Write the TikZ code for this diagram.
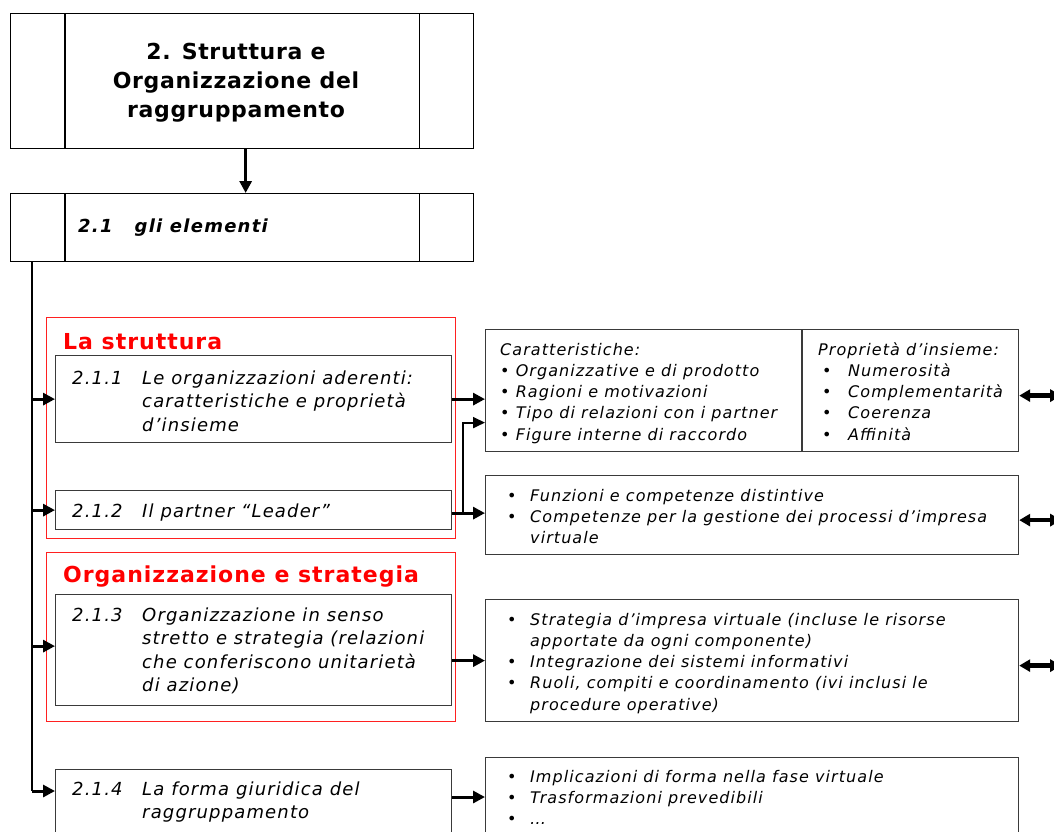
\documentclass[tikz,border=0pt]{standalone}
\usepackage{fontspec}
\setmainfont{DejaVu Sans}
\usetikzlibrary{arrows.meta}
\definecolor{boxline}{HTML}{3A3A3A}
\definecolor{groupred}{HTML}{FF2020}

% text faces
\newcommand\titlefont{\fontsize{22}{29}\selectfont\bfseries\addfontfeatures{LetterSpace=3}}
\newcommand\headfont{\fontsize{22}{26}\selectfont\bfseries\addfontfeatures{LetterSpace=4.5}}
\newcommand\itemfont{\fontsize{18}{23.6}\selectfont\itshape\addfontfeatures{LetterSpace=6.4}}
\newcommand\notefont{\fontsize{16}{21.3}\selectfont\itshape\addfontfeatures{LetterSpace=6.7}}

\begin{document}
\begin{tikzpicture}[x=1pt,y=-1pt,
  frame/.style={draw=black, line width=1.3pt, anchor=north west, inner sep=0pt},
  box/.style={draw=boxline, line width=1.2pt, anchor=north west, inner sep=0pt},
  group/.style={draw=groupred, line width=1pt, anchor=north west, inner sep=0pt},
  header/.style={anchor=west, inner sep=0pt, text=red, font=\headfont},
  itemtext/.style={anchor=base west, inner sep=0pt, font=\itemfont},
  notetext/.style={anchor=base west, inner sep=0pt, font=\notefont},
  link/.style={line width=3pt, -{Triangle[length=12pt,width=12pt]}},
  sidelink/.style={line width=1.8pt, -{Triangle[length=12pt,width=11pt]}},
  trunk/.style={line width=1.3pt},
  bilink/.style={line width=4.5pt, {Triangle[length=11pt,width=12pt]}-{Triangle[length=11pt,width=12pt]}},
]
\useasboundingbox (0,0) rectangle (1054,831);
\clip (0,0) rectangle (1054,831);

% --- heading blocks ---
\node[frame, minimum width=463pt, minimum height=135pt] (top) at (10,13) {};
\draw[line width=1.3pt] ([xshift=55pt]top.north west) -- ([xshift=55pt]top.south west);
\draw[line width=1.3pt] ([xshift=-55pt]top.north east) -- ([xshift=-55pt]top.south east);
\node[align=center, inner sep=0pt, font=\titlefont] (toptext) at (236,83)
  {2. Struttura e\\Organizzazione del\\raggruppamento};

\node[frame, minimum width=463pt, minimum height=68pt] (elem) at (10,193) {};
\draw[line width=1.3pt] ([xshift=55pt]elem.north west) -- ([xshift=55pt]elem.south west);
\draw[line width=1.3pt] ([xshift=-55pt]elem.north east) -- ([xshift=-55pt]elem.south east);
\node[anchor=west, inner sep=0pt, font=\fontsize{18}{20}\selectfont\bfseries\itshape\addfontfeatures{LetterSpace=7}] (elemtext) at (78,228)
  {2.1\hspace{22pt}gli elementi};

\draw[link] ([xshift=3.5pt]top.south) -- ([xshift=3.5pt]elem.north);

% --- red groups ---
\node[group, minimum width=409pt, minimum height=221pt] (gstruct) at (46,317) {};
\node[header] (hstruct) at (63,342) {La struttura};
\node[group, minimum width=409pt, minimum height=169pt] (gorg) at (46,552) {};
\node[header] (horg) at (63,577) {Organizzazione e strategia};

% --- element boxes ---
\node[box, minimum width=396pt, minimum height=87pt] (b211) at (55,355) {};
\node[itemtext] (t211) at (72,384) {\begin{tabular}[t]{@{}p{70pt}@{}l@{}}
  2.1.1 & Le organizzazioni aderenti:\\
        & caratteristiche e proprietà\\
        & d’insieme\end{tabular}};

\node[box, minimum width=396pt, minimum height=39pt] (b212) at (55,490) {};
\node[itemtext] (t212) at (72,517) {\begin{tabular}[t]{@{}p{70pt}@{}l@{}}
  2.1.2 & Il partner “Leader”\end{tabular}};

\node[box, minimum width=396pt, minimum height=111pt] (b213) at (55,594) {};
\node[itemtext] (t213) at (72,621) {\begin{tabular}[t]{@{}p{70pt}@{}l@{}}
  2.1.3 & Organizzazione in senso\\
        & stretto e strategia (relazioni\\
        & che conferiscono unitarietà\\
        & di azione)\end{tabular}};

\node[box, minimum width=396pt, minimum height=90pt] (b214) at (55,769) {};
\node[itemtext] (t214) at (72,795) {\begin{tabular}[t]{@{}p{70pt}@{}l@{}}
  2.1.4 & La forma giuridica del\\
        & raggruppamento\end{tabular}};

% --- detail boxes ---
\node[box, minimum width=533pt, minimum height=122pt] (rb1) at (485,329) {};
\draw[line width=1.2pt, boxline] ([xshift=317pt]rb1.north west) -- ([xshift=317pt]rb1.south west);
\node[notetext] (n1a) at (500,355) {\begin{tabular}[t]{@{}l@{}}
  Caratteristiche:\\
  {\upshape•} Organizzative e di prodotto\\
  {\upshape•} Ragioni e motivazioni\\
  {\upshape•} Tipo di relazioni con i partner\\
  {\upshape•} Figure interne di raccordo\end{tabular}};
\node[notetext] (n1b) at (818,355) {\begin{tabular}[t]{@{}p{30pt}@{}l@{}}
  \multicolumn{2}{@{}l@{}}{Proprietà d’insieme:}\\
  \hspace{4pt}{\upshape•} & Numerosità\\
  \hspace{4pt}{\upshape•} & Complementarità\\
  \hspace{4pt}{\upshape•} & Coerenza\\
  \hspace{4pt}{\upshape•} & Affinità\end{tabular}};

\node[box, minimum width=533pt, minimum height=79pt] (rb2) at (485,475) {};
\node[notetext] (n2) at (507,501) {\begin{tabular}[t]{@{}p{23pt}@{}l@{}}
  {\upshape•} & Funzioni e competenze distintive\\
  {\upshape•} & Competenze per la gestione dei processi d’impresa\\
              & virtuale\end{tabular}};

\node[box, minimum width=533pt, minimum height=122pt] (rb3) at (485,599) {};
\node[notetext] (n3) at (507,625) {\begin{tabular}[t]{@{}p{23pt}@{}l@{}}
  {\upshape•} & Strategia d’impresa virtuale (incluse le risorse\\
              & apportate da ogni componente)\\
  {\upshape•} & Integrazione dei sistemi informativi\\
  {\upshape•} & Ruoli, compiti e coordinamento (ivi inclusi le\\
              & procedure operative)\end{tabular}};

\node[box, minimum width=533pt, minimum height=100pt] (rb4) at (485,757) {};
\node[notetext] (n4) at (507,782) {\begin{tabular}[t]{@{}p{23pt}@{}l@{}}
  {\upshape•} & Implicazioni di forma nella fase virtuale\\
  {\upshape•} & Trasformazioni prevedibili\\
  {\upshape•} & …\end{tabular}};

% --- trunk and feeder arrows ---
\coordinate (trunktop) at ([xshift=22pt]elem.south west);
\coordinate (in214) at ([yshift=-22pt]b214.north west);
\draw[trunk] (trunktop) -- (trunktop |- in214);
\draw[link] (trunktop |- b211.west) -- (b211.west);
\draw[link] (trunktop |- b212.west) -- (b212.west);
\draw[link] ([yshift=4pt]trunktop |- b213.west) -- ([yshift=4pt]b213.west);
\draw[link] (trunktop |- in214) -- (in214);

% --- outgoing arrows ---
\draw[link] (b211.east) -- (b211.east -| rb1.west);
\coordinate (out212) at ([yshift=-3pt]b212.east);
\draw[link] (out212) -- (out212 -| rb2.west);
\coordinate (fork) at ([xshift=11pt]out212);
\coordinate (in1b) at ([yshift=-32pt]rb1.west);
\draw[sidelink] (fork) |- (in1b);
\draw[link] (b213.east |- rb3.west) -- (rb3.west);
\coordinate (in4) at ([yshift=-40pt]rb4.north west);
\draw[link] (b214.east |- in4) -- (in4);

% --- links leaving to the right ---
\draw[bilink] ([yshift=-5pt]rb1.east) -- ++(42pt,0);
\draw[bilink] ([yshift=-5pt]rb2.east) -- ++(42pt,0);
\draw[bilink] ([yshift=-5pt]rb3.east) -- ++(42pt,0);
\end{tikzpicture}
\end{document}
